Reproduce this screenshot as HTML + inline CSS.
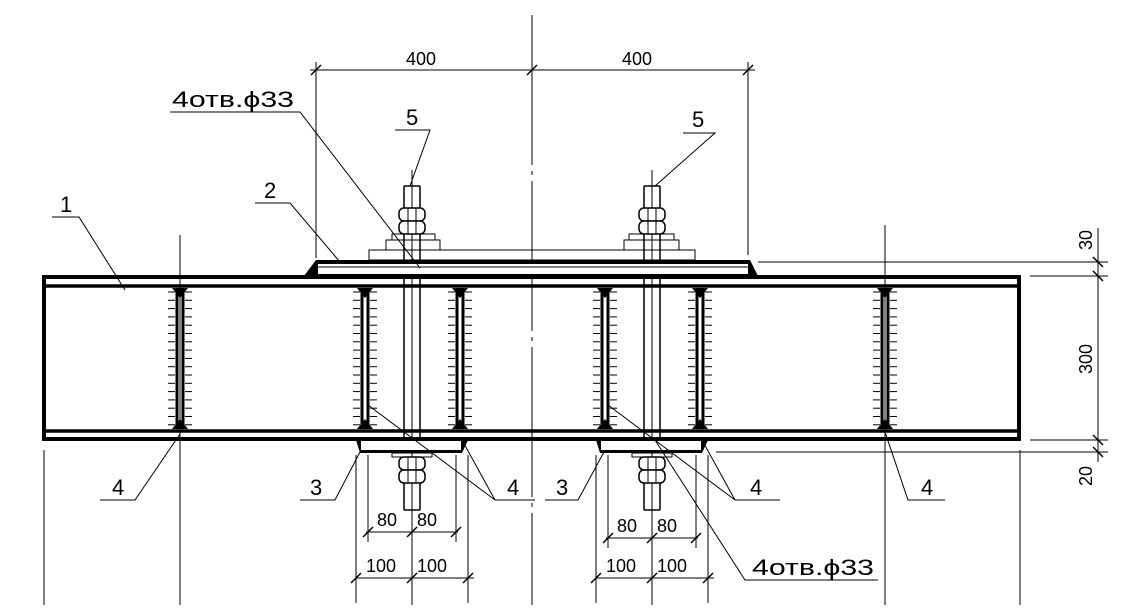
<!DOCTYPE html>
<html><head><meta charset="utf-8"><style>
html,body{margin:0;padding:0;background:#fff}
svg{display:block}
text{font-family:"Liberation Sans",sans-serif;font-size:18px;fill:#000}
text.l{font-size:22px}
</style></head><body>
<svg id="s" width="1128" height="612" viewBox="0 0 1128 612" xmlns="http://www.w3.org/2000/svg" stroke="#000" fill="none" stroke-width="1">
<line x1="532" y1="15" x2="532" y2="605" stroke-dasharray="150,6,4,6"/>
<line x1="180" y1="235" x2="180" y2="605"/>
<line x1="885" y1="225" x2="885" y2="605"/>
<line x1="44" y1="450" x2="44" y2="605"/>
<line x1="1020" y1="450" x2="1020" y2="605"/>
<line x1="412" y1="170" x2="412" y2="605"/>
<line x1="652" y1="170" x2="652" y2="605"/>
<line x1="310" y1="70" x2="755" y2="70"/>
<line x1="316" y1="62" x2="316" y2="258"/>
<line x1="748" y1="62" x2="748" y2="255"/>
<g stroke-width="1.5"><line x1="311" y1="75" x2="321" y2="65"/><line x1="527" y1="75" x2="537" y2="65"/><line x1="743" y1="75" x2="753" y2="65"/></g>
<text x="406" y="65" stroke="none">400</text>
<text x="622" y="65" stroke="none">400</text>
<line x1="1098" y1="228" x2="1098" y2="462"/>
<line x1="758" y1="262" x2="1108" y2="262"/>
<line x1="1030" y1="276" x2="1108" y2="276"/>
<line x1="1030" y1="440" x2="1108" y2="440"/>
<line x1="716" y1="452" x2="1108" y2="452"/>
<g stroke-width="1.5"><line x1="1093" y1="257" x2="1103" y2="267"/><line x1="1093" y1="271" x2="1103" y2="281"/><line x1="1093" y1="435" x2="1103" y2="445"/><line x1="1093" y1="447" x2="1103" y2="457"/></g>
<text stroke="none" transform="translate(1092,250) rotate(-90)">30</text>
<text stroke="none" transform="translate(1092,374) rotate(-90)">300</text>
<text stroke="none" transform="translate(1092,486) rotate(-90)">20</text>
<rect x="44" y="277" width="975" height="162" stroke-width="4"/>
<line x1="44" y1="286" x2="1019" y2="286" stroke-width="3.5"/>
<line x1="44" y1="431" x2="1019" y2="431" stroke-width="3.5"/>
<g id="g"></g>
<path d="M316 260 L750 260 L758 276 L304 276 Z" fill="#000" stroke="none"/>
<rect x="318" y="264" width="430" height="10" fill="#fff" stroke="none"/>
<line x1="318" y1="267" x2="748" y2="267"/>
<rect x="369" y="250" width="326" height="10"/>
<rect x="386" y="240" width="54" height="10"/><rect x="392" y="234" width="43" height="6"/>
<rect x="624" y="240" width="55" height="10"/><rect x="629" y="234" width="45" height="6"/>
<path d="M356 440 L468 440 L462 453 L360 453 Z" fill="#000" stroke="none"/>
<rect x="361" y="441" width="100" height="9" fill="#fff" stroke="none"/>
<path d="M596 440 L708 440 L702 453 L600 453 Z" fill="#000" stroke="none"/>
<rect x="601" y="441" width="100" height="9" fill="#fff" stroke="none"/>
<rect x="392" y="453" width="40" height="4"/><rect x="632" y="453" width="40" height="4"/>
<g>
<polyline points="52,217 79,217 125,290"/><text class="l" x="60" y="212" stroke="none">1</text>
<polyline points="255,203 290,203 340,262"/><text class="l" x="264" y="198" stroke="none">2</text>
<polyline points="170,112 300,112 420,268"/><text class="l" x="172" y="107" stroke="none" textLength="122" lengthAdjust="spacingAndGlyphs">4отв.ϕ33</text>
<polyline points="395,130 430,130 410,186"/><text class="l" x="406" y="125" stroke="none">5</text>
<polyline points="683,133 715,133 655,186"/><text class="l" x="692" y="127" stroke="none">5</text>
<polyline points="100,500 135,500 180,434"/><text class="l" x="112" y="495" stroke="none">4</text>
<polyline points="300,500 335,500 360,452"/><text class="l" x="310" y="495" stroke="none">3</text>
<polyline points="535,500 495,500 462,440"/><line x1="495" y1="500" x2="368" y2="405"/><text class="l" x="507" y="495" stroke="none">4</text>
<polyline points="545,500 578,500 604,452"/><text class="l" x="556" y="495" stroke="none">3</text>
<polyline points="780,500 735,500 702,440"/><line x1="735" y1="500" x2="608" y2="405"/><text class="l" x="750" y="495" stroke="none">4</text>
<polyline points="945,500 908,500 885,432"/><text class="l" x="921" y="495" stroke="none">4</text>
<polyline points="878,580 745,580 655,440"/><text class="l" x="752" y="575" stroke="none" textLength="122" lengthAdjust="spacingAndGlyphs">4отв.ϕ33</text>
</g>
<g id="bd"></g>
</svg>
<script>
var NS="http://www.w3.org/2000/svg",g=document.getElementById('g'),bd=document.getElementById('bd');
function L(p,x1,y1,x2,y2,w){var l=document.createElementNS(NS,'line');l.setAttribute('x1',x1);l.setAttribute('y1',y1);l.setAttribute('x2',x2);l.setAttribute('y2',y2);if(w)l.setAttribute('stroke-width',w);p.appendChild(l);}
function T(p,x,y,s){var t=document.createElementNS(NS,'text');t.setAttribute('x',x);t.setAttribute('y',y);t.setAttribute('stroke','none');t.textContent=s;p.appendChild(t);}
[180,365,460,605,700,885].forEach(function(x){
 L(g,x-3,288,x-3,429,3);L(g,x+3,288,x+3,429,3);
 var p=document.createElementNS(NS,'path');p.setAttribute('d','M'+(x-8)+' 288 L'+(x+8)+' 288 L'+x+' 298 Z M'+(x-8)+' 429 L'+(x+8)+' 429 L'+x+' 419 Z');p.setAttribute('fill','#000');p.setAttribute('stroke','none');g.appendChild(p);
 for(var y=292;y<428;y+=8.3){L(g,x-12,y,x-5,y);L(g,x+5,y,x+12,y);}
});
for(var x=322;x<748;x+=8.2)L(g,x,267,x,274);
[356,596].forEach(function(b){for(var x=b+8;x<b+104;x+=8)L(g,x,442,x,450);});
[412,652].forEach(function(c){
 L(g,c-8,186,c-8,290,1.5);L(g,c+8,186,c+8,290,1.5);L(g,c-8,186,c+8,186,1.5);
 L(g,c-8,290,c-8,440,1.5);L(g,c+8,290,c+8,440,1.5);
 L(g,c-8,457,c-8,510,1.5);L(g,c+8,457,c+8,510,1.5);L(g,c-8,510,c+8,510,1.5);
 [[208,221],[221,234],[457,470],[470,483]].forEach(function(r){
  var e=document.createElementNS(NS,'rect');e.setAttribute('x',c-13);e.setAttribute('y',r[0]);e.setAttribute('width',26);e.setAttribute('height',r[1]-r[0]);e.setAttribute('rx',5);e.setAttribute('fill','#fff');e.setAttribute('stroke-width','1.5');g.appendChild(e);
  L(g,c-4,r[0],c-4,r[1]);L(g,c+4,r[0],c+4,r[1]);});
 var y1=c==412?532:538,y2=578;
 L(bd,c-46,y1,c+46,y1);L(bd,c-56,y2,c+62,y2);
 L(bd,c-44,455,c-44,y1+10);L(bd,c+44,455,c+44,y1+10);
 L(bd,c-56,455,c-56,y2+25);L(bd,c+56,455,c+56,y2+25);
 [c-44,c,c+44].forEach(function(x){L(bd,x-5,y1+5,x+5,y1-5,1.5);});
 [c-56,c,c+56].forEach(function(x){L(bd,x-5,y2+5,x+5,y2-5,1.5);});
 T(bd,c-35,y1-6,'80');T(bd,c+5,y1-6,'80');T(bd,c-46,y2-6,'100');T(bd,c+5,y2-6,'100');
});
</script>
</body></html>
